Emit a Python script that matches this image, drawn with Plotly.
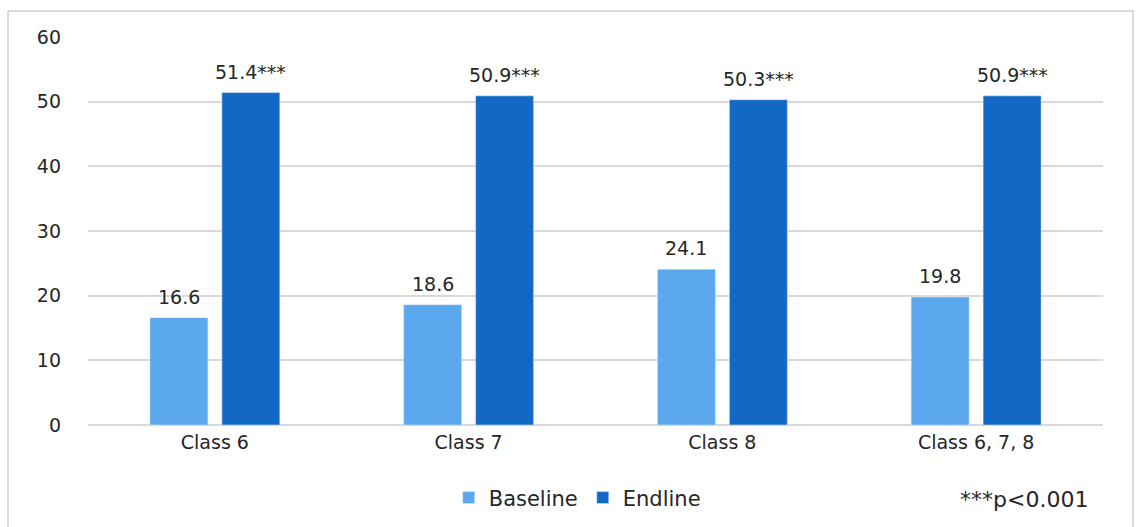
import plotly.graph_objects as go

categories = ["Class 6", "Class 7", "Class 8", "Class 6, 7, 8"]
baseline = [16.6, 18.6, 24.1, 19.8]
endline = [51.4, 50.9, 50.3, 50.9]
baseline_labels = ["16.6", "18.6", "24.1", "19.8"]
endline_labels = ["51.4***", "50.9***", "50.3***", "50.9***"]
y_ticks = [0, 10, 20, 30, 40, 50, 60]

FONT = "DejaVu Sans"
TXT = "#262626"

fig = go.Figure()
fig.add_trace(go.Bar(name="Baseline", x=categories, y=baseline, marker_color="#5BA8EF"))
fig.add_trace(go.Bar(name="Endline", x=categories, y=endline, marker_color="#1468C5"))

annotations = []
for cat, val, lab in zip(categories, baseline, baseline_labels):
    annotations.append(dict(x=cat, y=val, text=lab, xshift=-36, yshift=8, yanchor="bottom",
                            showarrow=False, font=dict(size=19, color=TXT, family=FONT)))
for cat, val, lab in zip(categories, endline, endline_labels):
    annotations.append(dict(x=cat, y=val, text=lab, xshift=36, yshift=8, yanchor="bottom",
                            showarrow=False, font=dict(size=19, color=TXT, family=FONT)))
annotations.append(dict(text="***p<0.001", xref="paper", yref="paper", x=0.987, y=-0.193,
                        xanchor="right", yanchor="middle", showarrow=False,
                        font=dict(size=22, color=TXT, family=FONT)))

fig.update_layout(
    width=1136, height=527,
    margin=dict(l=88, r=33, t=37, b=102, autoexpand=False),
    paper_bgcolor="white", plot_bgcolor="white",
    barmode="group", bargap=0.433, bargroupgap=0.194,
    font=dict(family=FONT, size=18, color=TXT),
    showlegend=True,
    legend=dict(orientation="h", x=0.482, xanchor="center", y=-0.188, yanchor="middle",
                font=dict(size=21, color=TXT, family=FONT), traceorder="normal",
                itemwidth=30),
    xaxis=dict(showgrid=False, showline=False, ticks="", tickfont=dict(size=19, color=TXT),
               ticklabelstandoff=4),
    yaxis=dict(range=[0, 60], tickvals=y_ticks, showgrid=True, gridcolor="#D9D9D9",
               gridwidth=1.5, zeroline=True, zerolinecolor="#D9D9D9", zerolinewidth=1.5,
               showline=False, ticks="", tickfont=dict(size=19, color=TXT), ticklabelstandoff=26),
    annotations=annotations,
    shapes=[dict(type="rect", xref="paper", yref="paper", x0=-0.0788, x1=1.0296,
                 y0=-0.3, y1=1.067, line=dict(color="#D0D0D0", width=1.5))],
)

fig.write_html("out.html")
